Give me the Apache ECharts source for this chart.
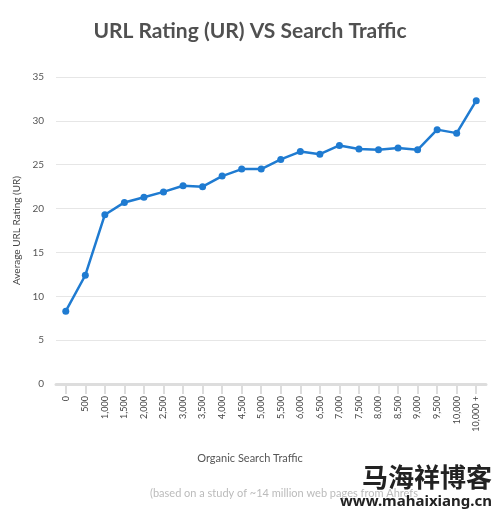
<!DOCTYPE html>
<html><head><meta charset="utf-8">
<script src="https://cdn.jsdelivr.net/npm/echarts@6/dist/echarts.min.js"></script>
<style>html,body{margin:0;padding:0;background:#fff}#c{width:500px;height:514px}</style>
</head><body><div id="c"></div>
<script>
const categories = ["0","500","1,000","1,500","2,000","2,500","3,000","3,500","4,000","4,500","5,000","5,500","6,000","6,500","7,000","7,500","8,000","8,500","9,000","9,500","10,000","10,000 +"];
const urValues = [8.3,12.4,19.3,20.7,21.3,21.9,22.6,22.5,23.7,24.5,24.5,25.6,26.5,26.2,27.2,26.8,26.7,26.9,26.7,29.0,28.6,32.3];
const yTicks = {min:0,max:35,interval:5};
const chart = echarts.init(document.getElementById('c'));
chart.setOption({
  animation:false,
  title:{text:'URL Rating (UR) VS Search Traffic',left:'center',top:16,textStyle:{fontFamily:'Lato',fontSize:21,fontWeight:'bold',color:'#505050'}},
  graphic:[
    {type:'text',left:'center',top:453,style:{text:'Organic Search Traffic',font:'11px Lato',fill:'#555'}},
    {type:'text',left:150,top:488,style:{text:'(based on a study of ~14 million web pages from Ahrefs',font:'11px Lato',fill:'#bbb'}},
    {type:'text',right:8,top:464,style:{text:'马海祥博客',font:'bold 26px "Noto Sans CJK SC"',fill:'#222'}},
    {type:'text',right:8,top:494,style:{text:'www.mahaixiang.cn',font:'bold 15px "Noto Sans"',fill:'#222'}}
  ],
  grid:{left:56,right:14,top:77,bottom:130},
  xAxis:{type:'category',data:categories,boundaryGap:true,
    axisLine:{lineStyle:{color:'#ddd',width:3}},axisTick:{show:true,alignWithLabel:true,length:10,lineStyle:{color:'#ddd',width:2}},
    axisLabel:{rotate:90,fontSize:9,color:'#444',fontFamily:'Lato',margin:12}},
  yAxis:{type:'value',min:yTicks.min,max:yTicks.max,interval:yTicks.interval,name:'Average URL Rating (UR)',nameLocation:'middle',nameGap:30,
    nameTextStyle:{fontSize:10,color:'#444',fontFamily:'Lato'},
    axisLabel:{fontSize:10,color:'#555',fontFamily:'Lato',margin:12},
    splitLine:{lineStyle:{color:'#e6e6e6'}},axisLine:{show:false},axisTick:{show:false}},
  series:[{type:'line',data:urValues,symbol:'circle',symbolSize:7,
    lineStyle:{color:'#1f7bd1',width:2.5},itemStyle:{color:'#1f7bd1'}}]
});
</script></body></html>
